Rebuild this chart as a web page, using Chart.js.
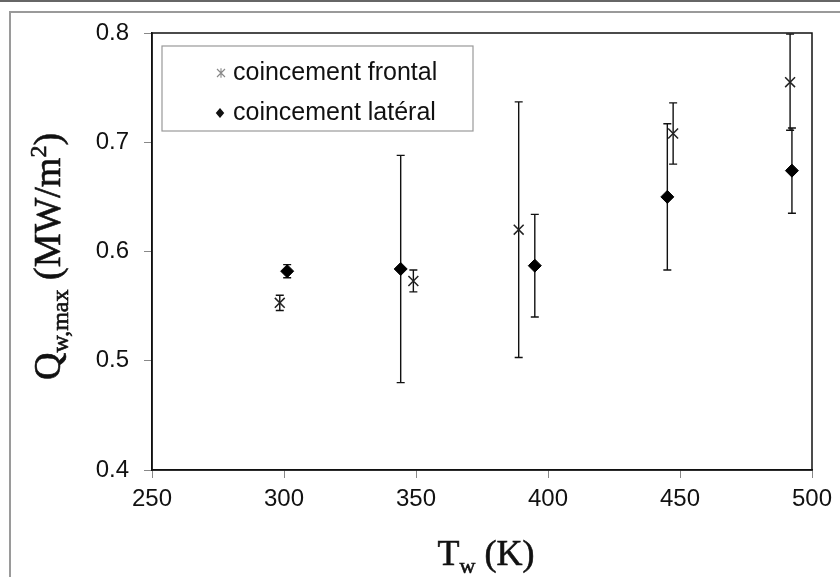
<!DOCTYPE html>
<html>
<head>
<meta charset="utf-8">
<script src="https://cdn.jsdelivr.net/npm/chart.js@4.4.0/dist/chart.umd.min.js"></script>
<style>
html, body { margin: 0; padding: 0; background: #fff; }
#wrap { position: relative; width: 840px; height: 577px; overflow: hidden; }
#topline { position: absolute; left: 0; top: 0; width: 840px; border-top: 2px solid #666; }
#frame { position: absolute; left: 9px; top: 11px; width: 900px; height: 700px; border-top: 2px solid #9a9a9a; border-left: 2px solid #9a9a9a; }
canvas { position: absolute; left: 0; top: 0; }
</style>
</head>
<body>
<div id="wrap">
  <div id="topline"></div>
  <div id="frame"></div>
  <canvas id="graph1" width="840" height="577"></canvas>
</div>
<script>
// series names
const seriesNames = ["coincement frontal", "coincement latéral"];

// coincement frontal
const frontalT = [298.4, 349.0, 388.9, 447.4, 491.7];
const frontalQ = [0.553, 0.573, 0.620, 0.708, 0.755];
const frontalErr = [0.007, 0.010, 0.117, 0.028, 0.044];

// coincement latéral
const lateralT = [301.2, 344.2, 395.0, 445.2, 492.4];
const lateralQ = [0.582, 0.584, 0.587, 0.650, 0.674];
const lateralErr = [0.006, 0.104, 0.047, 0.067, 0.039];

// axes
const xTicks = [250, 300, 350, 400, 450, 500];
const yTicks = [0.4, 0.5, 0.6, 0.7, 0.8];
const xTitle = [["T", 0], ["w", 1], [" (K)", 0]];
const yTitle = [["Q", 0], ["w,max", 1], [" (MW/m", 0], ["2", -1], [")", 0]];

const SERIF = "'Liberation Serif', 'DejaVu Serif', serif";
const SANS = "'Liberation Sans', Arial, sans-serif";

function toPoints(xs, ys) {
  return xs.map((x, i) => ({ x: x, y: ys[i] }));
}

// draws a title made of normal / subscript / superscript parts
function drawParts(ctx, parts, size) {
  const small = Math.round(size * 0.62);
  let w = 0;
  parts.forEach(p => {
    ctx.font = (p[1] ? small : size) + "px " + SERIF;
    w += ctx.measureText(p[0]).width;
  });
  let x = -w / 2;
  parts.forEach(p => {
    ctx.font = (p[1] ? small : size) + "px " + SERIF;
    let dy = 0;
    if (p[1] == 1) dy = size * 0.22;
    if (p[1] == -1) dy = -size * 0.36;
    ctx.fillText(p[0], x, dy);
    // stroke a little to thicken the thin serif
    ctx.strokeText(p[0], x, dy);
    x += ctx.measureText(p[0]).width;
  });
}

function asterisk(ctx, x, y, r) {
  ctx.beginPath();
  ctx.moveTo(x - r, y - r); ctx.lineTo(x + r, y + r);
  ctx.moveTo(x - r, y + r); ctx.lineTo(x + r, y - r);
  ctx.moveTo(x, y - r * 1.2); ctx.lineTo(x, y + r * 1.2);
  ctx.stroke();
}

function diamond(ctx, x, y, r) {
  ctx.beginPath();
  ctx.moveTo(x, y - r); ctx.lineTo(x + r * 0.85, y);
  ctx.lineTo(x, y + r); ctx.lineTo(x - r * 0.85, y);
  ctx.closePath();
  ctx.fill();
}

const errorBars = {
  id: "errorBars",
  beforeDatasetsDraw(chart) {
    const ctx = chart.ctx, xs = chart.scales.x, ys = chart.scales.y;
    ctx.save();
    ctx.strokeStyle = "#111";
    ctx.lineWidth = 1.4;
    chart.data.datasets.forEach(ds => {
      ds.data.forEach((p, i) => {
        const px = xs.getPixelForValue(p.x);
        const t = ys.getPixelForValue(p.y + ds.errors[i]);
        const b = ys.getPixelForValue(p.y - ds.errors[i]);
        ctx.beginPath();
        ctx.moveTo(px, t); ctx.lineTo(px, b);
        ctx.moveTo(px - 4, t); ctx.lineTo(px + 4, t);
        ctx.moveTo(px - 4, b); ctx.lineTo(px + 4, b);
        ctx.stroke();
      });
    });
    ctx.restore();
  }
};

const decorations = {
  id: "decorations",
  afterDraw(chart) {
    const ctx = chart.ctx, a = chart.chartArea;
    ctx.save();
    // plot frame
    ctx.strokeStyle = "#111";
    ctx.lineWidth = 1.5;
    ctx.strokeRect(a.left, a.top, a.right - a.left, a.bottom - a.top);

    // legend box
    const lx = a.left + 10, ly = a.top + 13;
    ctx.fillStyle = "#fff";
    ctx.fillRect(lx, ly, 311, 85);
    ctx.strokeStyle = "#999";
    ctx.lineWidth = 1.2;
    ctx.strokeRect(lx, ly, 311, 85);
    ctx.strokeStyle = "#888";
    ctx.lineWidth = 1.1;
    asterisk(ctx, lx + 59, ly + 27, 4);
    ctx.fillStyle = "#111";
    diamond(ctx, lx + 58, ly + 67, 5);
    ctx.font = "25px " + SANS;
    ctx.textBaseline = "middle";
    ctx.fillText(chart.data.datasets[0].label, lx + 71, ly + 27);
    ctx.fillText(chart.data.datasets[1].label, lx + 71, ly + 67);

    // axis titles
    ctx.textBaseline = "alphabetic";
    ctx.fillStyle = "#111";
    ctx.strokeStyle = "#111";
    ctx.lineWidth = 0.6;
    ctx.save();
    ctx.translate((a.left + a.right) / 2 + 4, 565);
    drawParts(ctx, xTitle, 36);
    ctx.restore();
    ctx.save();
    ctx.translate(60, (a.top + a.bottom) / 2 + 5);
    ctx.rotate(-Math.PI / 2);
    drawParts(ctx, yTitle, 38);
    ctx.restore();
    ctx.restore();
  }
};

const graph = document.getElementById("graph1").getContext("2d");

let myChart = new Chart(graph, {
  type: "scatter",
  data: {
    datasets: [
      {
        label: seriesNames[0],
        data: toPoints(frontalT, frontalQ),
        errors: frontalErr,
        pointStyle: "crossRot",
        pointRadius: 7,
        borderColor: "#222",
        backgroundColor: "#222",
        borderWidth: 1.5,
      },
      {
        label: seriesNames[1],
        data: toPoints(lateralT, lateralQ),
        errors: lateralErr,
        pointStyle: "rectRot",
        pointRadius: 6.5,
        borderColor: "#000",
        backgroundColor: "#000",
        borderWidth: 1,
      },
    ],
  },
  options: {
    responsive: false,
    animation: false,
    clip: false,
    layout: {
      padding: { top: 33, right: 28, left: 0, bottom: 0 },
    },
    plugins: {
      legend: { display: false },
      tooltip: { enabled: false },
    },
    scales: {
      x: {
        type: "linear",
        min: xTicks[0],
        max: xTicks[xTicks.length - 1],
        afterBuildTicks: s => { s.ticks = xTicks.map(v => ({ value: v })); },
        afterFit: s => { s.height = 107; },
        grid: { drawOnChartArea: false, tickLength: 8, color: "#888" },
        border: { color: "#111", width: 1.5 },
        ticks: {
          color: "#111",
          padding: 7,
          font: { family: SANS, size: 24 },
        },
      },
      y: {
        min: yTicks[0],
        max: yTicks[yTicks.length - 1],
        afterBuildTicks: s => { s.ticks = yTicks.map(v => ({ value: v })); },
        afterFit: s => { s.width = 152; },
        grid: { drawOnChartArea: false, tickLength: 8, color: "#888" },
        border: { color: "#111", width: 1.5 },
        ticks: {
          color: "#111",
          padding: 15,
          font: { family: SANS, size: 24 },
          callback: v => v.toFixed(1),
        },
      },
    },
  },
  plugins: [errorBars, decorations],
});
</script>
</body>
</html>
